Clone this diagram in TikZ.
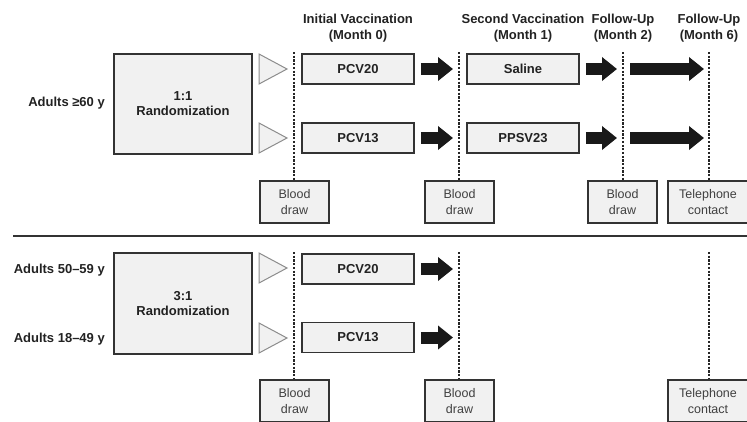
\documentclass[tikz,border=0pt]{standalone}
\usepackage{fontspec}
\setmainfont{Liberation Sans}
\usetikzlibrary{arrows.meta}
\definecolor{txt}{HTML}{222222}
\definecolor{boxline}{HTML}{333333}
\definecolor{boxfill}{HTML}{F1F1F1}
\definecolor{trline}{HTML}{8C8C8C}
\begin{document}
\begin{tikzpicture}[x=1pt,y=-1pt,
  every node/.style={text=txt, inner sep=0pt},
  bx/.style={draw=boxline, fill=boxfill, line width=1.5pt, font=\bfseries\fontsize{13}{15}\selectfont, align=center},
  randbox/.style={bx, minimum width=138pt, minimum height=100pt},
  vbox/.style={bx, minimum width=112pt, minimum height=30pt},
  evbox/.style={draw=boxline, fill=boxfill, line width=1.5pt, font=\fontsize{12.5}{16}\selectfont, align=center, minimum height=42pt, text=black!75},
  hdr/.style={font=\bfseries\fontsize{13}{16}\selectfont, align=center},
  grp/.style={font=\bfseries\fontsize{13}{15}\selectfont, anchor=east},
  dots/.style={draw=black!85, line width=2pt, dash pattern=on 2.2pt off 1.5pt},
  blk/.style={draw=black!90, line width=12pt, -{Triangle[length=15pt,width=23pt]}},
  tri/.pic={\draw[trline, fill=boxfill, line width=1pt] (-14,-15) -- (14,0) -- (-14,15) -- cycle;}
]
\useasboundingbox (0,0) rectangle (747,421);
\clip (0,0) rectangle (747,421);

% headers
\node[hdr] (h0) at (358,28) {Initial Vaccination\\(Month 0)};
\node[hdr] (h1) at (523,28) {Second Vaccination\\(Month 1)};
\node[hdr] (h2) at (623,28) {Follow-Up\\(Month 2)};
\node[hdr] (h6) at (709,28) {Follow-Up\\(Month 6)};

% ---------- top section ----------
\node[grp] (g60) at (105,103) {Adults ≥60 y};
\node[randbox] (r1) at (183,104) {1:1\\Randomization};

\pic at (273,69) {tri};
\pic at (273,138) {tri};

\node[vbox] (pa) at (358,69) {PCV20};
\node[vbox] (pb) at (358,138) {PCV13};
\node[vbox] (sa) at (523,69) {Saline};
\node[vbox] (pp) at (523,138) {PPSV23};

\coordinate (d1t) at (294,52); \coordinate (d1b) at (294,180);
\coordinate (d2t) at (459,52); \coordinate (d2b) at (459,180);
\coordinate (d3t) at (623,52); \coordinate (d3b) at (623,180);
\coordinate (d4t) at (709,52); \coordinate (d4b) at (709,180);
\draw[dots] (d1t) -- (d1b);
\draw[dots] (d2t) -- (d2b);
\draw[dots] (d3t) -- (d3b);
\draw[dots] (d4t) -- (d4b);

\coordinate (a2) at (459,69); \coordinate (b2) at (459,138);
\coordinate (a3) at (623,69); \coordinate (b3) at (623,138);
\coordinate (a4) at (709,69); \coordinate (b4) at (709,138);
\draw[blk] ([xshift=6pt]pa.east) -- ([xshift=-6pt]a2);
\draw[blk] ([xshift=6pt]pb.east) -- ([xshift=-6pt]b2);
\draw[blk] ([xshift=6pt]sa.east) -- ([xshift=-6pt]a3);
\draw[blk] ([xshift=6pt]pp.east) -- ([xshift=-6pt]b3);
\draw[blk] ([xshift=7pt]a3) -- ([xshift=-5pt]a4);
\draw[blk] ([xshift=7pt]b3) -- ([xshift=-5pt]b4);

\node[evbox, minimum width=69pt] (e1) at (294.5,202) {Blood\\draw};
\node[evbox, minimum width=69pt] (e2) at (459.5,202) {Blood\\draw};
\node[evbox, minimum width=69pt] (e3) at (622.5,202) {Blood\\draw};
\node[evbox, minimum width=80pt] (e4) at (708,202) {Telephone\\contact};

% separator
\coordinate (sl) at (13,236); \coordinate (sr) at (747,236);
\draw[boxline, line width=1.4pt] (sl) -- (sr);

% ---------- bottom section ----------
\node[grp] (g50) at (105,270) {Adults 50–59 y};
\node[grp] (g18) at (105,339) {Adults 18–49 y};
\node[randbox, minimum height=101pt] (r2) at (183,303.5) {3:1\\Randomization};

\pic at (273,268) {tri};
\pic at (273,338) {tri};

\node[vbox] (qa) at (358,269) {PCV20};
\node[vbox] (qb) at (358,337.5) {PCV13};

\coordinate (f1t) at (294,252); \coordinate (f1b) at (294,379);
\coordinate (f2t) at (459,252); \coordinate (f2b) at (459,379);
\coordinate (f4t) at (709,252); \coordinate (f4b) at (709,379);
\draw[dots] (f1t) -- (f1b);
\draw[dots] (f2t) -- (f2b);
\draw[dots] (f4t) -- (f4b);

\coordinate (c2) at (459,269); \coordinate (c3) at (459,337.5);
\draw[blk] ([xshift=6pt]qa.east) -- ([xshift=-6pt]c2);
\draw[blk] ([xshift=6pt]qb.east) -- ([xshift=-6pt]c3);

\node[evbox, minimum width=69pt] (k1) at (294.5,401) {Blood\\draw};
\node[evbox, minimum width=69pt] (k2) at (459.5,401) {Blood\\draw};
\node[evbox, minimum width=80pt] (k4) at (708,401) {Telephone\\contact};
\end{tikzpicture}
\end{document}
